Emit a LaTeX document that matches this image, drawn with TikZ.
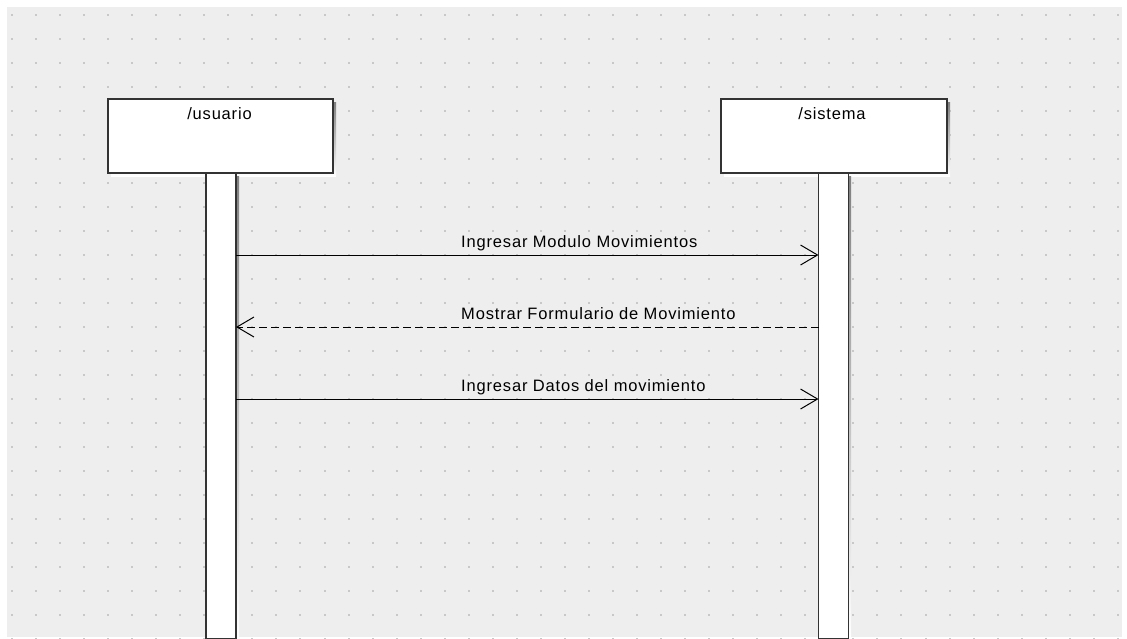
\documentclass[tikz,border=0pt]{standalone}
\usepackage{fontspec}
\setmainfont{Liberation Sans}[LetterSpace=5]
\usetikzlibrary{arrows.meta,calc}
\definecolor{canvas}{HTML}{EEEEEE}
\definecolor{griddot}{HTML}{C8C8C8}
\definecolor{edge}{HTML}{333333}
\definecolor{shade}{HTML}{BBBBBB}
\tikzset{
  lifehead/.style={draw=edge, line width=1.6pt, fill=white, minimum width=225pt, minimum height=74pt, inner sep=0pt, outer sep=0pt},
  lifebar/.style={draw=edge, line width=1.6pt, fill=white, minimum width=30pt, inner sep=0pt, outer sep=0pt, anchor=north},
  headlabel/.style={font=\fontsize{16.5}{18}\selectfont, anchor=base, inner sep=0pt},
  msglabel/.style={font=\fontsize{16.5}{18}\selectfont, anchor=base west, inner sep=0pt},
  msg/.style={line width=1pt, -{Straight Barb[length=17pt, width=20pt, line width=1pt]}},
  reply/.style={msg, dash pattern=on 8pt off 4pt},
}
\begin{document}
\begin{tikzpicture}[x=1pt, y=-1pt]
\useasboundingbox (0,0) rectangle (1127,638);
% white page with the grey canvas
\fill[white] (0,0) rectangle (1127,638);
\fill[canvas] (7,7) rectangle (1122,637);
% dot grid
\foreach \i in {0,...,46} {
  \foreach \j in {0,...,26} {
    \fill[griddot] ({12+24.04*\i-1},{15+24*\j-1}) rectangle ++(2,2);
  }
}
% shadows
\fill[shade] (111,102) rectangle (336,176);
\fill[shade] (724,102) rectangle (950,176);
\fill[shade] (209,176) rectangle (239,638);
\fill[shade] (822,176) rectangle (851,638);
% lifelines
\node[lifebar, minimum height=466pt] (ubar) at (221,173) {};
\node[lifebar, minimum height=466pt] (sbar) at (833.5,173) {};
% participant heads
\node[lifehead] (uhead) at (220.5,136) {};
\node[lifehead, minimum width=226pt] (shead) at (834,136) {};
\node[headlabel] (ulabel) at ($(uhead.north)+(-1,20)$) {/usuario};
\node[headlabel] (slabel) at ($(shead.north)+(-2,20)$) {/sistema};
% message levels
\coordinate (m1) at (0,255);
\coordinate (m2) at (0,327);
\coordinate (m3) at (0,399);
\draw[msg] (ubar.east |- m1) -- (sbar.west |- m1);
\draw[reply] (sbar.west |- m2) -- (ubar.east |- m2);
\draw[msg] (ubar.east |- m3) -- (sbar.west |- m3);
\node[msglabel] (l1) at (461,247) {Ingresar Modulo Movimientos};
\node[msglabel] (l2) at (461,319) {Mostrar Formulario de Movimiento};
\node[msglabel] (l3) at (461,391) {Ingresar Datos del movimiento};
\end{tikzpicture}
\end{document}
